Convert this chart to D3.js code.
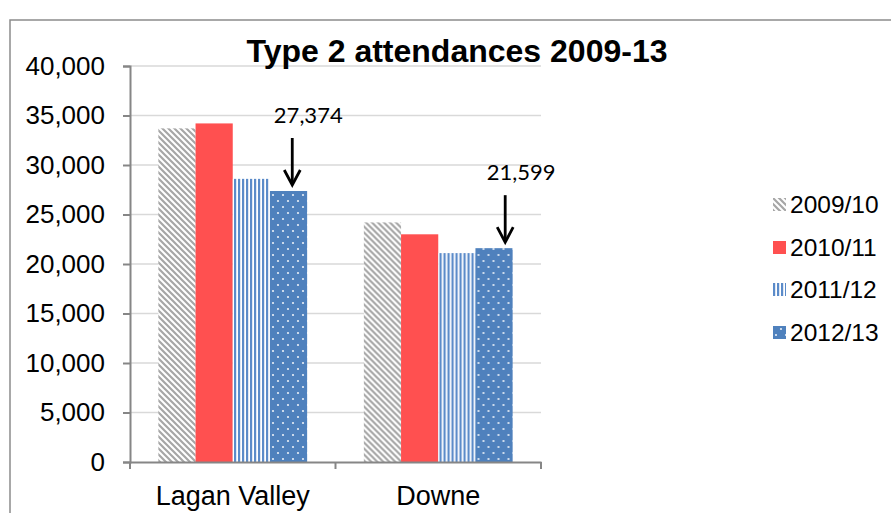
<!DOCTYPE html>
<html>
<head>
<meta charset="utf-8">
<script src="https://cdn.jsdelivr.net/npm/d3@7"></script>
<style>
  html, body { margin: 0; padding: 0; background: #fff; }
  svg { display: block; }
</style>
</head>
<body>
<svg id="chart" width="891" height="513"></svg>
<script>
const title = "Type 2 attendances 2009-13";
const categories = ["Lagan Valley", "Downe"];
const seriesNames = ["2009/10", "2010/11", "2011/12", "2012/13"];
const values2009 = [33700, 24200];
const values2010 = [34200, 23000];
const values2011 = [28600, 21100];
const values2012 = [27374, 21599];
const yTicks = [0, 5000, 10000, 15000, 20000, 25000, 30000, 35000, 40000];
const annotations = [
  { category: "Lagan Valley", series: "2012/13", value: 27374, label: "27,374" },
  { category: "Downe", series: "2012/13", value: 21599, label: "21,599" }
];

const seriesValues = [values2009, values2010, values2011, values2012];
const data = categories.map((c, i) => ({
  category: c,
  values: seriesNames.map((s, j) => ({ series: s, value: seriesValues[j][i] }))
}));

const svg = d3.select("#chart");
const defs = svg.append("defs");

// Patterns
const pHatch = defs.append("pattern").attr("id", "p0").attr("patternUnits", "userSpaceOnUse")
  .attr("width", 6).attr("height", 6);
pHatch.append("rect").attr("width", 6).attr("height", 6).attr("fill", "#ffffff");
pHatch.append("path").attr("d", "M-1,-1 L7,7 M-4,2 L2,8 M4,-2 L10,4")
  .attr("stroke", "#a6a6a6").attr("stroke-width", 2.2);

const pStripe = defs.append("pattern").attr("id", "p2").attr("patternUnits", "userSpaceOnUse")
  .attr("width", 4).attr("height", 4);
pStripe.append("rect").attr("width", 4).attr("height", 4).attr("fill", "#ffffff");
pStripe.append("rect").attr("x", 0).attr("width", 2.2).attr("height", 4).attr("fill", "#5b8bc9");

const pDots = defs.append("pattern").attr("id", "p3").attr("patternUnits", "userSpaceOnUse")
  .attr("width", 10).attr("height", 12);
pDots.append("rect").attr("width", 10).attr("height", 12).attr("fill", "#4f81bd");
pDots.append("circle").attr("cx", 3).attr("cy", 3).attr("r", 1.1).attr("fill", "#e8eef7");
pDots.append("circle").attr("cx", 8).attr("cy", 9).attr("r", 1.1).attr("fill", "#e8eef7");

const fills = { "2009/10": "url(#p0)", "2010/11": "#ff5050", "2011/12": "url(#p2)", "2012/13": "url(#p3)" };

// Frame
svg.append("path").attr("d", "M10,513 L10,20 L891,20")
  .attr("fill", "none").attr("stroke", "#8c8c8c").attr("stroke-width", 1.5);

const plot = { left: 130, right: 541, top: 66, bottom: 462 };

const y = d3.scaleLinear().domain([0, 40000]).range([plot.bottom, plot.top]);
const x0 = d3.scaleBand().domain(categories).range([plot.left, plot.right]).padding(0);
const bw = x0.bandwidth();
const x1 = d3.scaleBand().domain(seriesNames).range([bw * 0.138, bw * 0.862]).padding(0);

// Gridlines
svg.append("g").selectAll("line").data(yTicks.filter(t => t > 0)).join("line")
  .attr("x1", plot.left).attr("x2", plot.right)
  .attr("y1", d => y(d)).attr("y2", d => y(d))
  .attr("stroke", "#d9d9d9").attr("stroke-width", 1.5);

// Bars
const groups = svg.append("g").selectAll("g").data(data).join("g")
  .attr("transform", d => `translate(${x0(d.category)},0)`);
groups.selectAll("rect").data(d => d.values).join("rect")
  .attr("x", d => x1(d.series))
  .attr("width", x1.bandwidth())
  .attr("y", d => y(d.value))
  .attr("height", d => y(0) - y(d.value))
  .attr("fill", d => fills[d.series]);

// Y axis
const yAxis = d3.axisLeft(y).tickValues(yTicks).tickFormat(d3.format(",")).tickSize(7).tickPadding(18);
const gy = svg.append("g").attr("transform", `translate(${plot.left},0)`).call(yAxis);
gy.select(".domain").attr("stroke", "#868686").attr("stroke-width", 2);
gy.selectAll(".tick line").attr("stroke", "#868686").attr("stroke-width", 2);
gy.selectAll(".tick text").attr("font-family", "Liberation Sans, Arial, sans-serif")
  .attr("font-size", 26).attr("fill", "#000");

// X axis
const xAxis = d3.axisBottom(x0).tickSize(0).tickPadding(0);
const gx = svg.append("g").attr("transform", `translate(0,${plot.bottom})`).call(xAxis);
gx.select(".domain").attr("stroke", "#868686").attr("stroke-width", 2);
gx.selectAll(".tick text").attr("font-family", "Liberation Sans, Arial, sans-serif")
  .attr("font-size", 27).attr("fill", "#000").attr("dy", 0).attr("y", 43);
// category boundary tick marks
const boundaries = categories.map(c => x0(c)).concat([x0(categories[categories.length - 1]) + bw]);
gx.append("g").selectAll("line").data(boundaries).join("line")
  .attr("x1", d => d).attr("x2", d => d).attr("y1", 0).attr("y2", 7)
  .attr("stroke", "#868686").attr("stroke-width", 2);

// Title
svg.append("text").attr("x", 457).attr("y", 62).attr("text-anchor", "middle")
  .attr("font-family", "Liberation Sans, Arial, sans-serif").attr("font-weight", "bold")
  .attr("font-size", 32).attr("fill", "#000").text(title);

// Annotations
const annOffsets = { "Lagan Valley": 0.6, "Downe": 0.8 };
annotations.forEach(a => {
  const ax = x0(a.category) + x1(a.series) + x1.bandwidth() * annOffsets[a.category];
  const top = y(a.value);
  svg.append("line").attr("x1", ax).attr("x2", ax).attr("y1", top - 53).attr("y2", top - 7)
    .attr("stroke", "#000").attr("stroke-width", 2.8);
  svg.append("path")
    .attr("d", `M${ax - 8},${top - 21} L${ax},${top - 6} L${ax + 8},${top - 21}`)
    .attr("fill", "none").attr("stroke", "#000").attr("stroke-width", 2.8);
  svg.append("text").attr("x", ax + 16).attr("y", top - 68).attr("text-anchor", "middle")
    .attr("font-family", "Lato, Carlito, sans-serif").attr("font-size", 22).attr("fill", "#000")
    .text(a.label);
});

// Legend
const legend = svg.append("g");
const legY = [204, 247, 289, 332];
seriesNames.forEach((s, i) => {
  const g = legend.append("g").attr("transform", `translate(773,${legY[i]})`);
  g.append("rect").attr("x", 0).attr("y", -6).attr("width", 13).attr("height", 13).attr("fill", fills[s]);
  g.append("text").attr("x", 17).attr("y", 0).attr("dy", "0.35em")
    .attr("font-family", "Liberation Sans, Arial, sans-serif").attr("font-size", 24.5).attr("fill", "#000").text(s);
});
</script>
</body>
</html>
